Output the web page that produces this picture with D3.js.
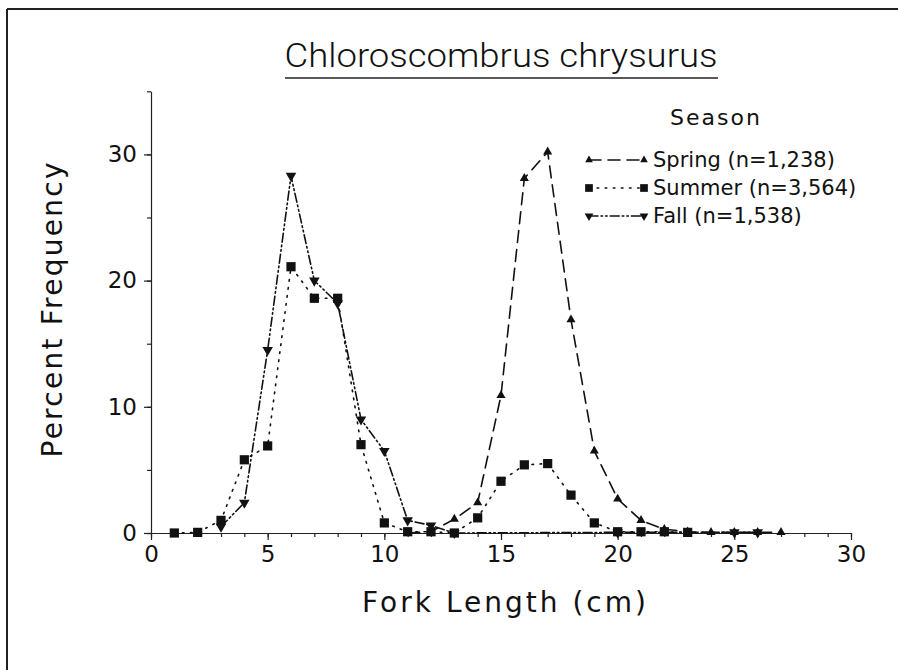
<!DOCTYPE html>
<html>
<head>
<meta charset="utf-8">
<script src="https://cdn.jsdelivr.net/npm/d3@7"></script>
<style>
  body { margin: 0; background: #fff; }
  svg text { fill: #111; }
</style>
</head>
<body>
<svg id="chart" width="898" height="670"></svg>
<script>
// fork length classes (cm) and percent frequency per season
const springLen = [11, 12, 13, 14, 15, 16, 17, 18, 19, 20, 21, 22, 23, 24, 25, 26, 27];
const springPct = [0, 0.1, 1.1, 2.4, 10.9, 28.1, 30.2, 16.9, 6.5, 2.7, 1.0, 0.3, 0.1, 0.05, 0.05, 0.05, 0.05];

const summerLen = [1, 2, 3, 4, 5, 6, 7, 8, 9, 10, 11, 12, 13, 14, 15, 16, 17, 18, 19, 20, 21, 22, 23];
const summerPct = [0, 0.05, 1.0, 5.8, 6.9, 21.1, 18.6, 18.6, 7.0, 0.8, 0.1, 0.1, 0, 1.2, 4.1, 5.4, 5.5, 3.0, 0.8, 0.1, 0.1, 0.1, 0.05];

const fallLen = [3, 4, 5, 6, 7, 8, 9, 10, 11, 12, 13, 20, 25, 26];
const fallPct = [0.5, 2.4, 14.5, 28.3, 20.0, 18.2, 9.0, 6.5, 1.0, 0.6, 0, 0.05, 0.05, 0.05];

const seasonNames = ["Spring (n=1,238)", "Summer (n=3,564)", "Fall (n=1,538)"];

const xMajor = [0, 5, 10, 15, 20, 25, 30];
const yMajor = [0, 10, 20, 30];

const svg = d3.select("#chart");
const font = "'DejaVu Sans', sans-serif";

// scanned page frame (only top and left edges survive)
svg.append("line").attr("x1", 7).attr("y1", 9).attr("x2", 898).attr("y2", 9)
    .attr("stroke", "#222").attr("stroke-width", 2);
svg.append("line").attr("x1", 7).attr("y1", 9).attr("x2", 7).attr("y2", 670)
    .attr("stroke", "#222").attr("stroke-width", 2);

const x = d3.scaleLinear().domain([0, 30]).range([151, 851]);
const y = d3.scaleLinear().domain([0, 35]).range([533, 91.3]);

// minor ticks first, then labelled ones
svg.append("g").attr("transform", "translate(0,533)")
    .call(d3.axisBottom(x).tickValues(d3.range(0, 31)).tickSize(4).tickFormat(""))
    .call(g => g.select(".domain").remove());
svg.append("g").attr("transform", "translate(151,0)")
    .call(d3.axisLeft(y).tickValues(d3.range(0, 36, 5)).tickSize(4).tickFormat(""))
    .call(g => g.select(".domain").remove());

const xAxis = svg.append("g").attr("transform", "translate(0,533)")
    .call(d3.axisBottom(x).tickValues(xMajor).tickSize(7).tickSizeOuter(0).tickPadding(6));
const yAxis = svg.append("g").attr("transform", "translate(151,0)")
    .call(d3.axisLeft(y).tickValues(yMajor).tickSize(7).tickSizeOuter(0).tickPadding(7));

[xAxis, yAxis].forEach(g => {
    g.selectAll("text").attr("font-family", font).attr("font-size", 23).attr("fill", "#111");
    g.selectAll("line, path").attr("stroke", "#222").attr("stroke-width", 1.2);
});
svg.selectAll(".tick line").attr("stroke", "#222").attr("stroke-width", 1.2);

// title
svg.append("text")
    .attr("x", 501).attr("y", 67)
    .attr("text-anchor", "middle")
    .attr("font-family", "Roboto, sans-serif")
    .attr("font-weight", 300)
    .attr("font-size", 34)
    .attr("textLength", 433).attr("lengthAdjust", "spacingAndGlyphs")
    .text("Chloroscombrus chrysurus");
svg.append("line").attr("x1", 285).attr("x2", 718).attr("y1", 78).attr("y2", 78)
    .attr("stroke", "#222").attr("stroke-width", 1.3);

// axis titles
svg.append("text")
    .attr("transform", "translate(62,310) rotate(-90)")
    .attr("text-anchor", "middle")
    .attr("font-family", font).attr("font-size", 28)
    .attr("textLength", 295).attr("lengthAdjust", "spacing")
    .text("Percent Frequency");
svg.append("text")
    .attr("x", 504).attr("y", 612)
    .attr("text-anchor", "middle")
    .attr("font-family", font).attr("font-size", 28)
    .attr("textLength", 284).attr("lengthAdjust", "spacing")
    .text("Fork Length (cm)");

const series = [
    { len: springLen, pct: springPct, dash: "12,7", shape: d3.symbolTriangle, size: 36, rot: 0 },
    { len: summerLen, pct: summerPct, dash: "1.6,6.5", shape: d3.symbolSquare, size: 85, rot: 0 },
    { len: fallLen, pct: fallPct, dash: "9,3,1.6,3,1.6,3", shape: d3.symbolTriangle, size: 48, rot: 180 }
];

const line = d3.line().x(d => x(d[0])).y(d => y(d[1]));

series.forEach(s => {
    const pts = s.len.map((l, i) => [l, s.pct[i]]);
    svg.append("path")
        .datum(pts)
        .attr("d", line)
        .attr("fill", "none")
        .attr("stroke", "#111")
        .attr("stroke-width", 1.6)
        .attr("stroke-linecap", "round")
        .attr("stroke-dasharray", s.dash);
    svg.append("g").selectAll("path")
        .data(pts)
        .enter().append("path")
        .attr("d", d3.symbol().type(s.shape).size(s.size))
        .attr("transform", d => `translate(${x(d[0])},${y(d[1])}) rotate(${s.rot})`)
        .attr("fill", "#111");
});

// legend
svg.append("text")
    .attr("x", 715).attr("y", 125)
    .attr("text-anchor", "middle")
    .attr("font-family", font).attr("font-size", 22)
    .attr("textLength", 90).attr("lengthAdjust", "spacing")
    .text("Season");

const legend = svg.append("g").selectAll("g")
    .data(series)
    .enter().append("g")
    .attr("transform", (d, i) => `translate(0,${160 + i * 28})`);
legend.append("line")
    .attr("x1", 589).attr("x2", 644).attr("y1", 0).attr("y2", 0)
    .attr("stroke", "#111").attr("stroke-width", 1.6)
    .attr("stroke-linecap", "round")
    .attr("stroke-dasharray", d => d.dash);
[589, 644].forEach(px => {
    legend.append("path")
        .attr("d", d => d3.symbol().type(d.shape).size(d.size * 0.7)())
        .attr("transform", d => `translate(${px},0) rotate(${d.rot})`)
        .attr("fill", "#111");
});
legend.append("text")
    .attr("x", 653).attr("y", 0).attr("dy", "0.35em")
    .attr("font-family", font).attr("font-size", 21)
    .text((d, i) => seasonNames[i]);
</script>
</body>
</html>
